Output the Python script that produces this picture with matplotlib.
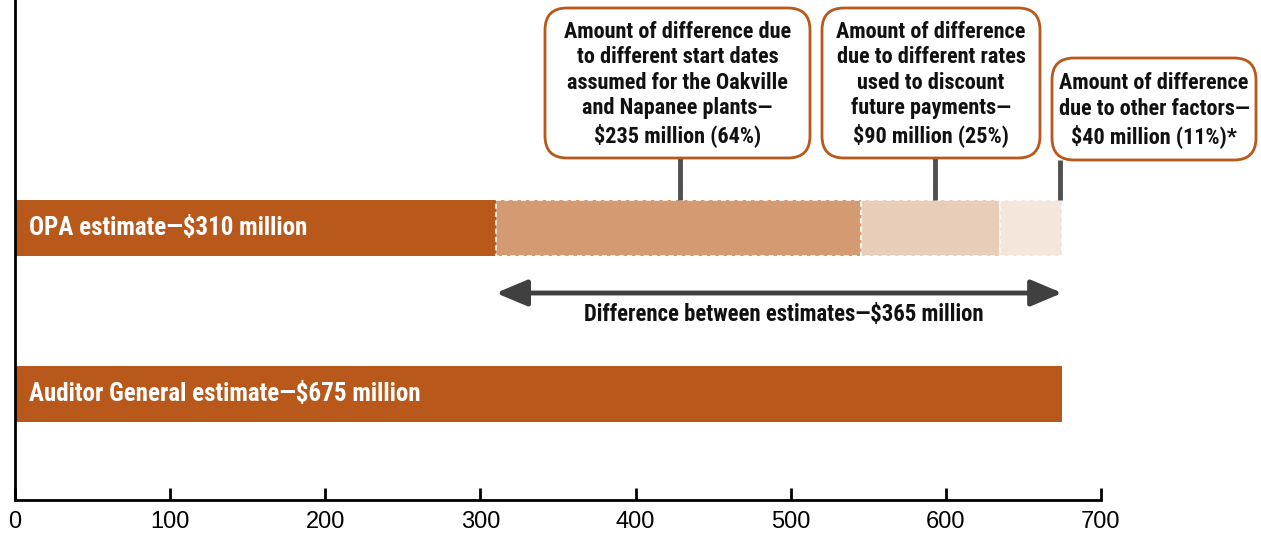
import matplotlib
matplotlib.use("Agg")
import matplotlib.pyplot as plt
from matplotlib import font_manager as fm
from matplotlib.patches import FancyBboxPatch

def pick(names):
    for n in names:
        try:
            fm.findfont(fm.FontProperties(family=n), fallback_to_default=False)
            return n
        except Exception:
            pass
    return "DejaVu Sans"

COND = pick(["Roboto Condensed", "Liberation Sans Narrow", "Open Sans Condensed", "DejaVu Sans"])
REG = pick(["Liberation Sans", "DejaVu Sans"])

# ---- data ----
bar_labels = ["OPA estimate—$310 million", "Auditor General estimate—$675 million"]
opa_estimate = 310
ag_estimate = 675
diff_components = [235, 90, 40]
diff_labels = [
    "Amount of difference due\nto different start dates\nassumed for the Oakville\nand Napanee plants—\n$235 million (64%)",
    "Amount of difference\ndue to different rates\nused to discount\nfuture payments—\n$90 million (25%)",
    "Amount of difference\ndue to other factors—\n$40 million (11%)*",
]
diff_total_label = "Difference between estimates—$365 million"
xticks = [0, 100, 200, 300, 400, 500, 600, 700]

DARK = "#B8581A"
SEG_COLORS = ["#D49A72", "#E8CDB8", "#F5E6DC"]
GRAY = "#505050"

W, H = 1261, 534
fig = plt.figure(figsize=(W / 100, H / 100), dpi=100)

# main axes: y measured in pixels from top
ax = fig.add_axes([15 / W, (H - 500) / H, 1086 / W, 500 / H])
ax.set_xlim(0, 700)
ax.set_ylim(500, 0)

y_opa, h_opa = 227.5, 56
y_ag, h_ag = 394, 56

ax.barh(y_opa, opa_estimate, height=h_opa, color=DARK, zorder=2)
left = opa_estimate
for w, c in zip(diff_components, SEG_COLORS):
    ax.barh(y_opa, w, left=left, height=h_opa, color=c, edgecolor="white",
            linestyle=(0, (3, 2)), linewidth=1.2, zorder=2)
    left += w
ax.barh(y_ag, ag_estimate, height=h_ag, color=DARK, zorder=2)

ax.text(9, y_opa, bar_labels[0], color="white", fontsize=18, fontweight="bold",
        family=COND, va="center", ha="left", zorder=3)
ax.text(9, y_ag, bar_labels[1], color="white", fontsize=18, fontweight="bold",
        family=COND, va="center", ha="left", zorder=3)

# double-headed arrow for difference
ax.annotate("", xy=(ag_estimate, 293), xytext=(opa_estimate, 293),
            arrowprops=dict(arrowstyle="<|-|>,head_length=1.9,head_width=0.8",
                            color="#404040", lw=3.5, shrinkA=0, shrinkB=0), zorder=3)
ax.text((opa_estimate + ag_estimate) / 2 + 3, 314, diff_total_label, fontsize=16.4,
        fontweight="bold", family=COND, ha="center", va="center", color="#111111")

# spines and ticks
for s in ["top", "right"]:
    ax.spines[s].set_visible(False)
ax.spines["left"].set_linewidth(2)
ax.spines["bottom"].set_linewidth(2)
ax.set_yticks([])
ax.set_xticks(xticks)
ax.set_xticklabels([str(t) for t in xticks], fontsize=17, family=REG)
ax.tick_params(axis="x", direction="in", length=9, width=2, pad=8, color="black")

# callouts: connector x in data units, box geometry in pixels
conn_x = [428.5, 593, 673.5]
boxes = [(545, 8, 265, 150), (822, 8, 218, 150), (1052, 58, 204, 102)]
ov = fig.add_axes([0, 0, 1, 1], facecolor="none")
ov.set_xlim(0, W)
ov.set_ylim(H, 0)
ov.axis("off")

def xpix(v):
    return 15 + v * 1086 / 700

for (bx, by, bw, bh), cx, txt in zip(boxes, conn_x, diff_labels):
    px = xpix(cx)
    ov.plot([px, px], [by + bh, 200], color=GRAY, lw=3.5, solid_capstyle="butt", zorder=1)
    p = FancyBboxPatch((bx, by), bw, bh, boxstyle="round,pad=0,rounding_size=22",
                       facecolor="white", edgecolor=DARK, lw=2, zorder=2)
    ov.add_patch(p)
    ov.text(bx + bw / 2, by + bh / 2 + 1, txt, fontsize=16, fontweight="bold",
            family=COND, ha="center", va="center", linespacing=1.2, color="#111111", zorder=3)

fig.savefig("out.png", dpi=100)
